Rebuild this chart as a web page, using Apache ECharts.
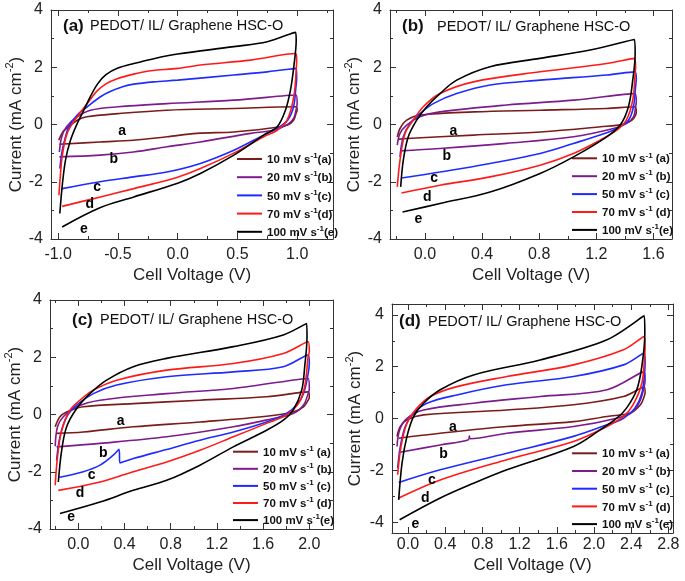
<!DOCTYPE html>
<html><head><meta charset="utf-8">
<script src="https://cdn.jsdelivr.net/npm/echarts@6/dist/echarts.min.js"></script>
<style>html,body{margin:0;padding:0;background:#fff}#c{width:685px;height:581px}</style>
</head><body><div id="c"></div><script>
// ---------- data ----------
const scanRates = ['10', '20', '50', '70', '100'];
const curveLetters = ['a', 'b', 'c', 'd', 'e'];
const panelTags = ['(a)', '(b)', '(c)', '(d)'];
const panelTitle = 'PEDOT/ IL/ Graphene HSC-O';
const xAxisName = 'Cell Voltage (V)';

// x tick labels per panel
const xTicksA = [-1.0, -0.5, 0.0, 0.5, 1.0];
const xTicksB = [0.0, 0.4, 0.8, 1.2, 1.6];
const xTicksC = [0.0, 0.4, 0.8, 1.2, 1.6, 2.0];
const xTicksD = [0.0, 0.4, 0.8, 1.2, 1.6, 2.0, 2.4, 2.8];
const xMinorA = [-0.75, -0.25, 0.25, 0.75, 1.25];
const xMinorB = [-0.2, 0.2, 0.6, 1.0, 1.4];
const xMinorC = [-0.2, 0.2, 0.6, 1.0, 1.4, 1.8];
const xMinorD = [0.2, 0.6, 1.0, 1.4, 1.8, 2.2, 2.6];
const yTicks = [-4, -2, 0, 2, 4];
const yMinor = [-3, -1, 1, 3];

// Panel (a)  [voltage V, current mA cm-2]
const A10 = [[-0.995,-0.55],[-0.96,-0.25],[-0.93,-0.14],[-0.84,0.15],[-0.76,0.27],[-0.5,0.38],[-0.09,0.5],[0.47,0.56],[0.99,0.62],[1.0,0.5],[0.99,0.38],[0.97,0.15],[0.92,-0.02],[0.75,-0.14],[0.47,-0.26],[0.16,-0.31],[-0.09,-0.43],[-0.37,-0.55],[-0.65,-0.61],[-0.99,-0.69]];
const A20 = [[-0.99,-0.96],[-0.97,-0.43],[-0.93,-0.08],[-0.84,0.27],[-0.73,0.5],[-0.5,0.62],[-0.09,0.73],[0.47,0.85],[0.99,1.03],[1.0,0.75],[0.99,0.5],[0.97,0.21],[0.92,0.0],[0.8,-0.2],[0.61,-0.31],[0.19,-0.61],[-0.09,-0.78],[-0.37,-0.96],[-0.65,-1.07],[-0.99,-1.13]];
const A50 = [[-0.986,-1.54],[-0.97,-1.0],[-0.953,-0.66],[-0.911,-0.08],[-0.841,0.33],[-0.757,0.62],[-0.646,0.97],[-0.56,1.16],[-0.46,1.32],[-0.367,1.41],[-0.2,1.49],[0.0,1.55],[0.47,1.73],[0.75,1.84],[0.994,1.96],[0.996,1.6],[0.99,1.32],[0.97,0.62],[0.92,0.15],[0.83,-0.14],[0.72,-0.37],[0.47,-0.9],[0.19,-1.36],[-0.09,-1.66],[-0.37,-1.83],[-0.65,-2.0],[-0.967,-2.24]];
const A70 = [[-0.994,-2.47],[-0.98,-1.7],[-0.967,-1.13],[-0.925,-0.31],[-0.841,0.27],[-0.757,0.73],[-0.68,1.15],[-0.6,1.42],[-0.506,1.6],[-0.37,1.76],[-0.227,1.88],[0.0,1.96],[0.19,2.08],[0.61,2.25],[0.986,2.48],[0.996,2.3],[0.994,2.02],[0.972,0.97],[0.916,0.15],[0.833,-0.2],[0.72,-0.43],[0.47,-1.0],[0.19,-1.54],[0.0,-1.84],[-0.367,-2.24],[-0.646,-2.53],[-0.967,-2.86]];
const A100 = [[-0.986,-3.11],[-0.967,-2.18],[-0.939,-1.25],[-0.897,-0.55],[-0.841,0.03],[-0.785,0.5],[-0.73,0.98],[-0.67,1.42],[-0.6,1.74],[-0.5,1.97],[-0.367,2.13],[-0.2,2.3],[0.0,2.46],[0.47,2.72],[0.75,2.89],[0.986,3.22],[0.992,2.95],[0.972,2.02],[0.944,1.2],[0.902,0.5],[0.833,-0.08],[0.72,-0.37],[0.47,-1.07],[0.19,-1.71],[0.0,-2.05],[-0.367,-2.53],[-0.646,-2.9],[-0.967,-3.58]];
const lettersA = [[-0.464,-0.23],[-0.534,-1.22],[-0.674,-2.2],[-0.735,-2.79],[-0.785,-3.67]];

// Panel (b)
const B10 = [[-0.194,-0.43],[-0.175,-0.14],[-0.128,0.15],[-0.035,0.33],[0.34,0.44],[0.81,0.5],[1.27,0.56],[1.47,0.62],[1.48,0.45],[1.475,0.33],[1.45,0.15],[1.39,0.01],[1.23,-0.08],[0.81,-0.26],[0.34,-0.37],[-0.128,-0.49],[-0.187,-0.52]];
const B20 = [[-0.194,-0.72],[-0.175,-0.31],[-0.128,-0.02],[-0.035,0.27],[0.105,0.44],[0.57,0.68],[1.04,0.85],[1.47,1.08],[1.48,0.8],[1.475,0.62],[1.46,0.27],[1.41,0.03],[1.32,-0.14],[1.04,-0.43],[0.57,-0.66],[0.105,-0.84],[-0.175,-0.92]];
const B50 = [[-0.175,-1.13],[-0.152,-0.43],[-0.105,0.03],[-0.035,0.38],[0.058,0.73],[0.222,1.08],[0.456,1.38],[0.806,1.55],[1.273,1.73],[1.47,1.84],[1.48,1.6],[1.475,1.32],[1.46,0.62],[1.425,0.15],[1.343,-0.14],[1.226,-0.37],[1.04,-0.66],[0.806,-1.01],[0.456,-1.36],[0.105,-1.66],[-0.164,-1.87]];
const B70 = [[-0.194,-2.18],[-0.175,-1.25],[-0.14,-0.31],[-0.082,0.15],[-0.012,0.62],[0.105,1.08],[0.339,1.49],[0.806,1.84],[1.273,2.13],[1.467,2.31],[1.475,2.0],[1.472,1.78],[1.455,0.85],[1.41,0.15],[1.343,-0.2],[1.226,-0.55],[1.04,-1.01],[0.806,-1.42],[0.456,-1.83],[0.105,-2.12],[-0.164,-2.39]];
const B100 = [[-0.17,-2.18],[-0.152,-1.25],[-0.117,-0.43],[-0.058,0.15],[0.012,0.62],[0.105,1.08],[0.222,1.55],[0.456,2.02],[0.806,2.31],[1.156,2.6],[1.467,2.97],[1.472,2.48],[1.455,1.55],[1.425,0.62],[1.367,-0.02],[1.273,-0.43],[1.04,-1.13],[0.806,-1.71],[0.456,-2.36],[0.105,-2.76],[-0.157,-3.06]];
const lettersB = [[0.199,-0.23],[0.152,-1.11],[0.065,-1.89],[0.016,-2.53],[-0.047,-3.32]];

// Panel (c)
const C10 = [[-0.2,-0.43],[-0.159,-0.08],[-0.101,0.09],[0.043,0.27],[0.476,0.38],[1.053,0.5],[1.63,0.62],[1.99,0.79],[2.0,0.6],[1.99,0.5],[1.95,0.27],[1.86,0.09],[1.63,-0.06],[1.053,-0.26],[0.476,-0.43],[0.043,-0.61],[-0.188,-0.66]];
const C20 = [[-0.2,-1.11],[-0.18,-0.43],[-0.13,-0.08],[-0.014,0.27],[0.188,0.5],[0.765,0.73],[1.342,0.91],[1.99,1.26],[2.0,0.9],[1.99,0.73],[1.95,0.33],[1.86,0.03],[1.688,-0.14],[1.342,-0.43],[0.765,-0.78],[0.188,-1.01],[-0.188,-1.13]];
const C50 = [[-0.188,-1.6],[-0.159,-0.78],[-0.101,-0.08],[-0.014,0.33],[0.13,0.73],[0.332,1.03],[0.765,1.32],[1.342,1.49],[1.775,1.67],[1.99,2.08],[2.0,1.8],[1.99,1.43],[1.95,0.73],[1.89,0.33],[1.8,0.03],[1.63,-0.26],[1.342,-0.61],[1.053,-0.9],[0.765,-1.22],[0.476,-1.54],[0.361,-1.69],[0.352,-1.22],[0.303,-1.42],[0.188,-1.77],[0.043,-2.0],[-0.173,-2.2]];
const C70 = [[-0.2,-2.47],[-0.18,-1.48],[-0.144,-0.55],[-0.072,0.15],[0.014,0.5],[0.13,0.85],[0.332,1.2],[0.765,1.55],[1.342,1.78],[1.775,2.13],[1.99,2.54],[2.0,2.2],[1.99,2.02],[1.96,0.97],[1.905,0.38],[1.8,-0.02],[1.63,-0.31],[1.342,-0.78],[1.053,-1.25],[0.765,-1.66],[0.476,-2.0],[0.188,-2.36],[-0.173,-2.65]];
const C100 = [[-0.173,-2.36],[-0.144,-1.25],[-0.101,-0.43],[-0.014,0.21],[0.101,0.73],[0.245,1.2],[0.476,1.67],[0.765,1.96],[1.342,2.37],[1.775,2.78],[1.977,3.18],[1.98,2.72],[1.96,1.67],[1.934,0.85],[1.86,0.15],[1.775,-0.2],[1.63,-0.55],[1.342,-1.13],[1.053,-1.77],[0.765,-2.3],[0.476,-2.65],[0.188,-3.06],[-0.159,-3.46]];
const lettersC = [[0.367,-0.23],[0.216,-1.34],[0.115,-2.12],[0.014,-2.74],[-0.063,-3.58]];

// Panel (d)
const D10 = [[-0.118,-0.69],[-0.082,-0.31],[-0.011,-0.05],[0.168,0.14],[1.063,0.33],[1.78,0.53],[2.317,0.85],[2.54,1.21],[2.55,1.0],[2.54,0.85],[2.5,0.53],[2.39,0.21],[2.14,0.08],[1.78,-0.12],[1.063,-0.31],[0.347,-0.57],[-0.1,-0.76]];
const D20 = [[-0.118,-1.08],[-0.09,-0.44],[-0.011,0.01],[0.168,0.33],[0.705,0.59],[1.42,0.85],[2.14,1.11],[2.54,1.81],[2.55,1.5],[2.54,1.23],[2.5,0.72],[2.42,0.27],[2.245,0.01],[1.78,-0.31],[1.063,-0.57],[0.67,-0.78],[0.66,-0.68],[0.65,-0.82],[0.347,-1.02],[-0.1,-1.31]];
const D50 = [[-0.111,-1.92],[-0.082,-1.08],[-0.029,-0.31],[0.061,0.21],[0.204,0.59],[0.526,0.91],[1.063,1.3],[1.78,1.62],[2.317,2.07],[2.54,2.52],[2.55,2.2],[2.547,1.88],[2.515,0.98],[2.44,0.4],[2.317,0.01],[2.14,-0.24],[1.78,-0.69],[1.063,-1.34],[0.347,-1.98],[-0.1,-2.47]];
const D70 = [[-0.111,-2.17],[-0.075,-1.08],[-0.011,-0.18],[0.097,0.4],[0.24,0.85],[0.526,1.23],[1.063,1.62],[1.78,2.07],[2.317,2.65],[2.54,3.16],[2.55,2.8],[2.547,2.52],[2.515,1.36],[2.42,0.53],[2.317,0.08],[2.14,-0.31],[1.78,-0.89],[1.063,-1.59],[0.347,-2.37],[-0.1,-3.07]];
const D100 = [[-0.1,-3.14],[-0.064,-1.72],[-0.011,-0.69],[0.061,0.08],[0.168,0.59],[0.347,1.11],[0.705,1.68],[1.42,2.26],[2.14,3.04],[2.54,3.96],[2.547,3.29],[2.515,2.01],[2.46,1.11],[2.35,0.4],[2.245,0.01],[2.066,-0.44],[1.78,-1.08],[1.063,-1.98],[0.705,-2.5],[0.347,-3.07],[-0.09,-3.91]];
const lettersD = [[0.483,-0.35],[0.383,-1.38],[0.258,-2.39],[0.186,-3.07],[0.079,-4.06]];

// legend suffixes (spacing as in the figure)
const legendSuffixA = ['(a)', '(b)', '(c)', '(d)', '(e)'];
const legendSuffixBCD = [' (a)', ' (b)', ' (c)', ' (d)', '(e)'];

// ---------- layout / style ----------
const colors = ['#7a1c1c', '#7d1a8c', '#1f2bff', '#ff1a1a', '#000000'];
const FONT = 'Liberation Sans, Arial, sans-serif';
const axisColor = '#333';

const panels = [
  { grid:{left:51, top:10, width:282, height:229}, x:[-1.06,1.30], y:[-4,4],
    xMaj:xTicksA, xMin:xMinorA, curves:[A10,A20,A50,A70,A100], letters:lettersA,
    suffix:legendSuffixA, legend:{left:237, top:152, gap:4.2},
    tag:{left:63, cy:26}, title:{left:90}, xLabMargin:8, xNameGap:28, yNameGap:26 },
  { grid:{left:390, top:10, width:282, height:229}, x:[-0.245,1.73], y:[-4,4],
    xMaj:xTicksB, xMin:xMinorB, curves:[B10,B20,B50,B70,B100], letters:lettersB,
    suffix:legendSuffixBCD, legend:{left:572, top:151.3, gap:3.9},
    tag:{left:402, cy:26.5}, title:{left:437}, xLabMargin:8, xNameGap:28, yNameGap:27 },
  { grid:{left:50, top:300, width:283, height:229}, x:[-0.245,2.205], y:[-4,4],
    xMaj:xTicksC, xMin:xMinorC, curves:[C10,C20,C50,C70,C100], letters:lettersC,
    suffix:legendSuffixBCD, legend:{left:233, top:444.7, gap:3.1},
    tag:{left:72, cy:320}, title:{left:100}, xLabMargin:8, xNameGap:28, yNameGap:25 },
  { grid:{left:392, top:304, width:281, height:229}, x:[-0.172,2.85], y:[-4.42,4.42],
    xMaj:xTicksD, xMin:xMinorD, curves:[D10,D20,D50,D70,D100], letters:lettersD,
    suffix:legendSuffixBCD, legend:{left:572, top:446.3, gap:3.7},
    tag:{left:399, cy:321.7}, title:{left:428}, xLabMargin:4, xNameGap:24, yNameGap:28 }
];

const grids = [], xAxes = [], yAxes = [], series = [], legends = [], titles = [];
const lineSt = {color: axisColor, width: 1};

panels.forEach((p, pi) => {
  grids.push(Object.assign({containLabel:false}, p.grid));
  grids.push(Object.assign({containLabel:false}, p.grid));
  const gMain = 2*pi, gMin = 2*pi + 1;
  const baseX = {type:'value', min:p.x[0], max:p.x[1], splitLine:{show:false}, scale:true};
  const baseY = {type:'value', min:p.y[0], max:p.y[1], splitLine:{show:false}, scale:true};
  // x axes
  xAxes.push(Object.assign({}, baseX, {gridIndex:gMain, position:'bottom',
    axisLine:{show:true, onZero:false, lineStyle:lineSt},
    axisTick:{show:true, inside:true, length:6, customValues:p.xMaj, lineStyle:lineSt},
    axisLabel:{show:true, customValues:p.xMaj, formatter:v => Number(v).toFixed(1),
      fontSize:16, color:'#222', fontFamily:FONT, margin:p.xLabMargin},
    name:xAxisName, nameLocation:'middle', nameGap:p.xNameGap,
    nameTextStyle:{fontSize:17, color:'#222', fontFamily:FONT}}));
  xAxes.push(Object.assign({}, baseX, {gridIndex:gMain, position:'top',
    axisLine:{show:true, onZero:false, lineStyle:lineSt},
    axisTick:{show:true, inside:true, length:6, customValues:p.xMaj, lineStyle:lineSt},
    axisLabel:{show:false}}));
  xAxes.push(Object.assign({}, baseX, {gridIndex:gMin, position:'bottom',
    axisLine:{show:false, onZero:false},
    axisTick:{show:true, inside:true, length:3, customValues:p.xMin, lineStyle:lineSt},
    axisLabel:{show:false}}));
  xAxes.push(Object.assign({}, baseX, {gridIndex:gMin, position:'top',
    axisLine:{show:false, onZero:false},
    axisTick:{show:true, inside:true, length:3, customValues:p.xMin, lineStyle:lineSt},
    axisLabel:{show:false}}));
  // y axes
  yAxes.push(Object.assign({}, baseY, {gridIndex:gMain, position:'left',
    axisLine:{show:true, onZero:false, lineStyle:lineSt},
    axisTick:{show:true, inside:true, length:6, customValues:yTicks, lineStyle:lineSt},
    axisLabel:{show:true, customValues:yTicks, formatter:v => String(v),
      fontSize:16, color:'#222', fontFamily:FONT, margin:8},
    name:'{n|Current (mA cm}{s|-2}{n|)}', nameLocation:'middle', nameGap:p.yNameGap, nameRotate:90,
    nameTextStyle:{fontSize:17, color:'#222', fontFamily:FONT,
      rich:{n:{fontSize:17, color:'#222', fontFamily:FONT, lineHeight:20, verticalAlign:'bottom'},
            s:{fontSize:11, color:'#222', fontFamily:FONT, lineHeight:11, verticalAlign:'top'}}}}));
  yAxes.push(Object.assign({}, baseY, {gridIndex:gMain, position:'right',
    axisLine:{show:true, onZero:false, lineStyle:lineSt},
    axisTick:{show:true, inside:true, length:6, customValues:yTicks, lineStyle:lineSt},
    axisLabel:{show:false}}));
  yAxes.push(Object.assign({}, baseY, {gridIndex:gMin, position:'left',
    axisLine:{show:false, onZero:false},
    axisTick:{show:true, inside:true, length:3, customValues:yMinor, lineStyle:lineSt},
    axisLabel:{show:false}}));
  yAxes.push(Object.assign({}, baseY, {gridIndex:gMin, position:'right',
    axisLine:{show:false, onZero:false},
    axisTick:{show:true, inside:true, length:3, customValues:yMinor, lineStyle:lineSt},
    axisLabel:{show:false}}));

  const names = [];
  p.curves.forEach((curve, ci) => {
    const nm = 'P' + pi + '_' + scanRates[ci];
    names.push(nm);
    series.push({type:'line', name:nm, xAxisIndex:4*pi, yAxisIndex:4*pi, data:curve,
      symbol:'none', showSymbol:false, smooth:0.35, color:colors[ci],
      lineStyle:{color:colors[ci], width:1.6}, z:3 + ci, animation:false});
  });
  series.push({type:'scatter', xAxisIndex:4*pi, yAxisIndex:4*pi, data:p.letters,
    symbolSize:1, itemStyle:{color:'rgba(255,255,255,0)'}, silent:true, animation:false, z:10,
    label:{show:true, position:'inside', formatter:q => curveLetters[q.dataIndex],
      fontSize:14, fontWeight:'bold', color:'#000', opacity:1, textBorderWidth:0,
      fontFamily:FONT}});

  const fmtMap = {};
  names.forEach((nm, i) => { fmtMap[nm] = '{t|' + scanRates[i] + ' mV s}{s|-1}{t|' + p.suffix[i] + '}'; });
  legends.push({orient:'vertical', left:p.legend.left, top:p.legend.top, itemGap:p.legend.gap,
    itemWidth:25, itemHeight:2, icon:'rect', data:names, selectedMode:false, padding:0,
    formatter:nm => fmtMap[nm],
    textStyle:{rich:{
      t:{fontSize:11.5, fontWeight:'bold', color:'#111', fontFamily:FONT, lineHeight:14, verticalAlign:'bottom'},
      s:{fontSize:8, fontWeight:'bold', color:'#111', fontFamily:FONT, lineHeight:8, verticalAlign:'top'}}}});

  titles.push({text:panelTags[pi], left:p.tag.left, top:p.tag.cy - 10, padding:0,
    textStyle:{fontSize:17, fontWeight:'bold', color:'#111', fontFamily:FONT, lineHeight:20}});
  titles.push({text:panelTitle, left:p.title.left, top:p.tag.cy - 10, padding:0,
    textStyle:{fontSize:14.5, fontWeight:'normal', color:'#111', fontFamily:FONT, lineHeight:20}});
});

const chart = echarts.init(document.getElementById('c'), null, {renderer:'canvas'});
chart.setOption({
  animation:false,
  backgroundColor:'#fff',
  title:titles, grid:grids, xAxis:xAxes, yAxis:yAxes, legend:legends, series:series
});
</script></body></html>
